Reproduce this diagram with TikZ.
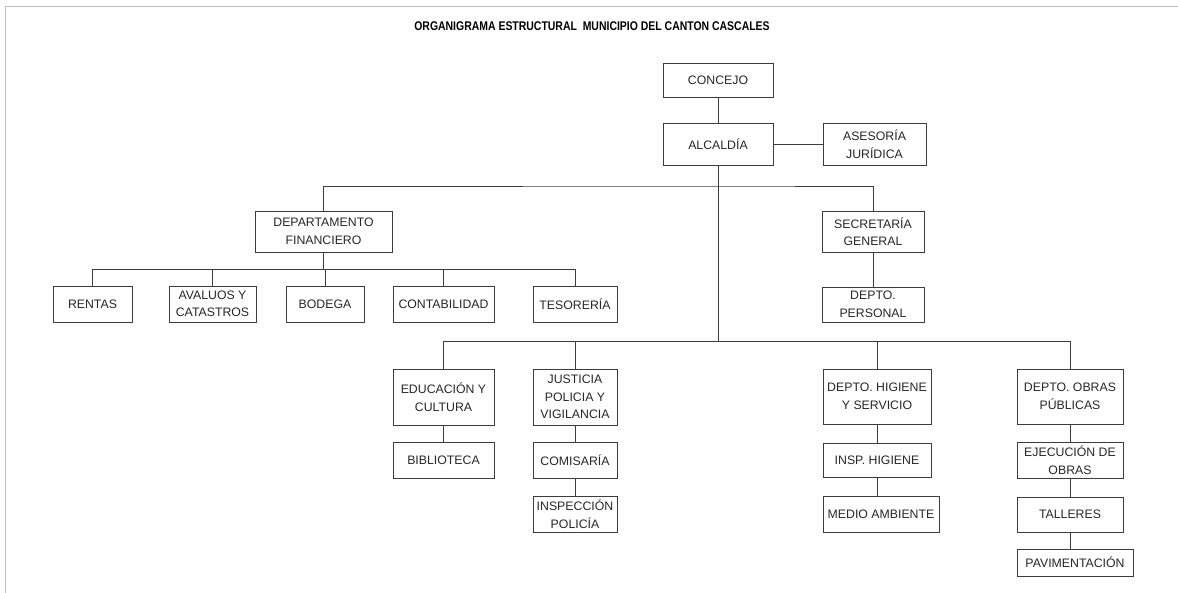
\documentclass[tikz,border=0pt]{standalone}
\usepackage{fontspec}
\usepackage{graphicx}
\setmainfont{Liberation Sans}
\usetikzlibrary{positioning}
\definecolor{LGray}{RGB}{190,190,190}
\definecolor{DGray}{RGB}{60,60,60}

\begin{document}
\begin{tikzpicture}[
    x=1pt, y=-1pt,
    block/.style={
      draw=DGray,
      line width=0.9pt,
      inner sep=0pt,
      align=center,
      text=black!85,
      font=\fontsize{12.3}{17.5}\selectfont
    },
    link/.style={draw=DGray, line width=0.9pt}
  ]
    \useasboundingbox (0,0) rectangle (1178,592);
    \draw[LGray, line width=1pt] (5,600) -- (5,6) -- (1190,6);

    \node (title) at (592,26) {\scalebox{0.83}[1]{\fontsize{12.6}{14}\selectfont\bfseries
      ORGANIGRAMA ESTRUCTURAL~ MUNICIPIO DEL CANTON CASCALES}};

    % top levels
    \node[block, minimum width=110, minimum height=34] (concejo) at (718,80) {CONCEJO};
    \node[block, minimum width=110, minimum height=42] (alcaldia) at (718,144) {ALCALDÍA};
    \node[block, minimum width=103, minimum height=42] (asesoria) at (874.5,144) {ASESORÍA\\JURÍDICA};

    % second level
    \node[block, minimum width=137, minimum height=41] (fin) at (323.5,231.5) {DEPARTAMENTO\\FINANCIERO};
    \node[block, minimum width=102, minimum height=41] (sec) at (873,231.5) {SECRETARÍA\\GENERAL};
    \node[block, minimum width=102, minimum height=35] (per) at (873,304.5) {DEPTO.\\PERSONAL};

    % financial units
    \node[block, minimum width=79, minimum height=36] (rentas) at (92.5,304) {RENTAS};
    \node[block, minimum width=87, minimum height=36] (avaluos) at (212.5,304) {AVALUOS Y\\CATASTROS};
    \node[block, minimum width=78, minimum height=36] (bodega) at (325,304) {BODEGA};
    \node[block, minimum width=101, minimum height=36] (conta) at (443.5,304) {CONTABILIDAD};
    \node[block, minimum width=84, minimum height=36] (tesoreria) at (575,304) {TESORERÍA};

    % departments
    \node[block, minimum width=101, minimum height=56] (edu) at (443.5,397) {EDUCACIÓN Y\\CULTURA};
    \node[block, minimum width=101, minimum height=36] (bib) at (443.5,460) {BIBLIOTECA};
    \node[block, minimum width=84, minimum height=56] (jus) at (575,397) {JUSTICIA\\POLICIA Y\\VIGILANCIA};
    \node[block, minimum width=84, minimum height=36] (com) at (575,460) {COMISARÍA};
    \node[block, minimum width=84, minimum height=36] (insp) at (575,514) {INSPECCIÓN\\POLICÍA};
    \node[block, minimum width=108, minimum height=55] (hig) at (877,396.5) {DEPTO. HIGIENE\\Y SERVICIO};
    \node[block, minimum width=108, minimum height=34] (insph) at (877,460) {INSP. HIGIENE};
    \node[block, minimum width=116, minimum height=36] (medio) at (881,514) {MEDIO AMBIENTE};
    \node[block, minimum width=106, minimum height=55] (obras) at (1070,396.5) {DEPTO. OBRAS\\PÚBLICAS};
    \node[block, minimum width=106, minimum height=36] (ejec) at (1070,460) {EJECUCIÓN DE\\OBRAS};
    \node[block, minimum width=106, minimum height=35] (talleres) at (1070,514.5) {TALLERES};
    \node[block, minimum width=116, minimum height=27] (pav) at (1075,562.5) {PAVIMENTACIÓN};

    % bus points
    \coordinate (bus1) at (718,186);
    \coordinate (fbus) at (323.5,269);
    \coordinate (bus2) at (718,341);

    % connectors
    \draw[link] (concejo) -- (alcaldia);
    \draw[link] (alcaldia) -- (asesoria);
    \draw[link] (alcaldia.south) -- (bus2);
    \draw[link] (fin.north) |- (bus1) -| (sec.north);
    \draw[link] (sec) -- (per);
    \draw[link] (fin.south) -- (fin.south |- fbus);
    \foreach \n in {rentas,avaluos,bodega,conta,tesoreria}
      \draw[link] (\n.north) |- (fbus);
    \foreach \n in {edu,jus,hig,obras}
      \draw[link] (\n.north) |- (bus2);
    \draw[link] (edu) -- (bib);
    \draw[link] (jus) -- (com);
    \draw[link] (com) -- (insp);
    \draw[link] (hig) -- (insph);
    \draw[link] (insph.south) -- (insph.south |- medio.north);
    \draw[link] (obras) -- (ejec);
    \draw[link] (ejec) -- (talleres);
    \draw[link] (talleres.south) -- (talleres.south |- pav.north);
  \end{tikzpicture}
\end{document}
